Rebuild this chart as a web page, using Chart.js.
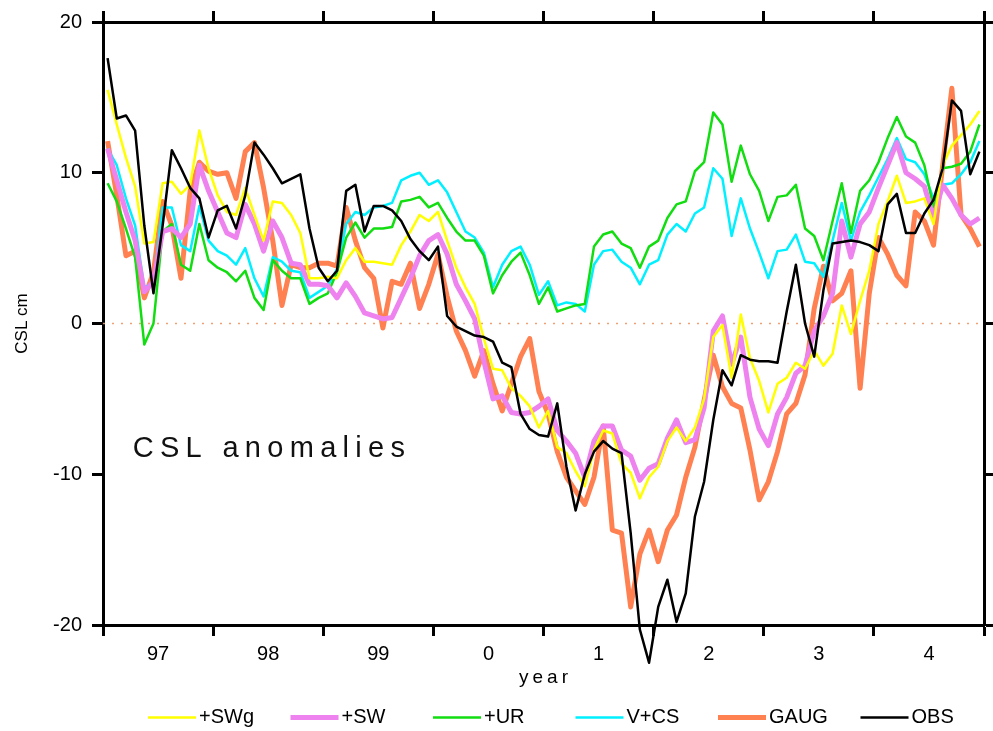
<!DOCTYPE html>
<html>
<head>
<meta charset="utf-8">
<title>CSL anomalies</title>
<script src="https://cdn.jsdelivr.net/npm/chart.js@4.4.1/dist/chart.umd.min.js"></script>
<style>
  html, body { margin: 0; padding: 0; background: #fff; }
  #wrap { width: 993px; height: 731px; }
</style>
</head>
<body>
<div id="wrap"><canvas id="myChart" width="993" height="731"></canvas></div>
<script>
"use strict";

const startYear = 1997;
const endYear = 2005;
const yearLabels = ["97", "98", "99", "0", "1", "2", "3", "4"];

// one value per month, Jan 1997 - Dec 2004 (plotted at mid-month)
const months = [];
for (let i = 0; i < 96; i++) {
  months.push(startYear + (i + 0.5) / 12);
}

const swg = [
  15.5, 13.2, 11.0, 9.1, 5.3, 5.4, 9.3, 9.4, 8.6, 9.2, 12.8, 10.3,
  8.5, 7.4, 7.2, 9.0, 7.2, 5.5, 8.1, 8.0, 7.2, 6.0, 3.0, 3.0,
  3.1, 3.0, 4.2, 5.0, 4.1, 4.1, 4.0, 3.9, 5.2, 6.1, 7.2, 6.8,
  7.4, 5.5, 3.7, 2.4, 1.3, -1.0, -3.0, -3.1, -4.3, -4.8, -5.5, -6.9,
  -5.8, -8.2, -8.6, -9.8, -10.8, -8.4, -7.1, -7.3, -9.3, -9.9, -11.6, -10.2,
  -9.5, -7.8, -6.9, -7.8, -6.9, -5.0, -0.9, -0.1, -3.6, 0.6, -2.3, -3.8,
  -5.9, -4.0, -3.6, -2.6, -3.0, -1.8, -2.8, -2.0, 1.2, -0.7, 1.5, 3.5,
  6.6, 8.1, 9.8, 8.0, 8.1, 8.3, 6.6, 10.5, 11.8, 12.5, 13.2, 14.1,
];

const sw = [
  11.6, 9.5, 7.4, 5.5, 2.1, 2.8, 6.1, 6.3, 5.7, 6.6, 10.5, 8.8,
  7.4, 6.0, 5.7, 7.9, 6.6, 4.8, 6.8, 5.7, 4.0, 3.9, 2.6, 2.6,
  2.5, 1.7, 2.7, 1.8, 0.7, 0.5, 0.3, 0.4, 1.7, 3.0, 4.5, 5.5,
  5.9, 4.6, 2.6, 1.5, 0.3, -2.5, -5.0, -4.8, -5.9, -6.0, -5.9, -5.5,
  -5.0, -7.1, -7.8, -8.6, -10.2, -7.8, -6.8, -6.8, -8.4, -8.8, -10.4, -9.6,
  -9.3, -7.6, -6.4, -7.9, -7.7, -5.6, -0.5, 0.5, -2.7, -0.9, -4.9, -7.0,
  -8.1, -6.0, -4.9, -3.3, -2.8, -0.5, 0.5, 2.0, 6.8, 4.4, 6.6, 7.4,
  9.0, 10.5, 12.0, 10.0, 9.6, 9.1, 7.0, 9.2, 8.3, 7.2, 6.6, 7.0,
];

const ur = [
  9.3, 8.1, 6.3, 4.4, -1.4, 0.0, 6.1, 6.6, 3.9, 3.5, 6.6, 4.2,
  3.7, 3.4, 2.8, 3.5, 1.7, 0.9, 4.2, 3.5, 3.0, 3.0, 1.3, 1.7,
  2.0, 3.4, 5.7, 6.7, 5.7, 6.3, 6.3, 6.4, 8.1, 8.2, 8.4, 7.7,
  8.0, 7.0, 6.1, 5.5, 5.5, 4.5, 2.0, 3.2, 4.1, 4.7, 3.2, 1.3,
  2.4, 0.8, 1.0, 1.2, 1.3, 5.1, 5.9, 6.1, 5.3, 5.0, 3.7, 5.1,
  5.5, 7.0, 7.9, 8.1, 10.1, 10.7, 14.0, 13.2, 9.4, 11.8, 9.9, 8.8,
  6.8, 8.4, 8.5, 9.2, 6.3, 5.8, 4.2, 6.8, 9.3, 6.0, 8.8, 9.5,
  10.7, 12.3, 13.7, 12.4, 12.0, 10.5, 7.7, 10.3, 10.4, 10.6, 11.4, 13.2,
];

const vcs = [
  11.6, 10.5, 8.3, 6.5, 2.4, 2.7, 7.7, 7.7, 5.2, 4.8, 7.8, 5.5,
  4.8, 4.5, 3.9, 5.0, 3.0, 1.8, 4.4, 4.1, 3.5, 3.4, 1.7, 2.1,
  2.5, 3.6, 6.6, 7.4, 7.2, 7.7, 7.8, 8.0, 9.5, 9.8, 10.0, 9.2,
  9.5, 8.7, 7.4, 6.1, 5.7, 4.7, 2.4, 3.9, 4.8, 5.1, 3.9, 1.9,
  2.8, 1.2, 1.4, 1.3, 0.8, 3.9, 4.8, 4.9, 4.1, 3.7, 2.6, 3.9,
  4.2, 5.9, 6.6, 6.1, 7.3, 7.7, 10.3, 9.6, 5.8, 8.3, 6.3, 4.7,
  3.0, 4.8, 4.9, 5.9, 4.1, 4.0, 3.1, 5.5, 8.0, 5.5, 7.4, 8.5,
  9.7, 10.9, 12.3, 10.9, 10.7, 9.9, 8.3, 9.2, 9.3, 9.9, 10.7, 12.1,
];

const gaug = [
  12.1, 8.5, 4.5, 4.8, 1.7, 3.4, 8.1, 6.5, 3.0, 8.8, 10.7, 10.1,
  9.9, 10.0, 8.3, 11.4, 12.0, 9.0, 5.5, 1.2, 3.9, 3.7, 3.7, 4.0,
  4.0, 3.8, 7.7, 5.5, 3.7, 3.0, -0.3, 2.8, 2.6, 4.0, 1.0, 2.6,
  4.6, 1.8, -0.5, -1.8, -3.5, -1.8, -4.0, -5.8, -4.0, -2.2, -1.0, -4.5,
  -6.0, -8.5, -10.2, -11.1, -12.0, -10.2, -6.8, -13.7, -13.9, -18.8, -15.3, -13.7,
  -15.8, -13.7, -12.7, -10.2, -8.2, -5.1, -2.1, -4.2, -5.3, -5.6, -8.4, -11.7,
  -10.5, -8.5, -6.0, -5.3, -3.4, 1.0, 3.8, 1.5, 2.0, 3.5, -4.3, 2.0,
  5.7, 4.6, 3.2, 2.5, 7.4, 6.8, 5.2, 10.5, 15.6, 7.2, 6.3, 5.1,
];

const obs = [
  17.6, 13.6, 13.8, 12.8, 6.5, 2.0, 6.5, 11.5, 10.3, 9.0, 8.3, 5.7,
  7.5, 7.8, 6.3, 8.5, 12.0, 11.2, 10.3, 9.3, 9.6, 9.9, 6.3, 3.7,
  2.8, 3.5, 8.8, 9.2, 6.1, 7.8, 7.8, 7.5, 6.8, 5.6, 4.8, 4.2,
  5.1, 0.5, -0.2, -0.5, -0.8, -0.9, -1.2, -2.6, -2.9, -6.0, -7.0, -7.4,
  -7.5, -5.3, -9.5, -12.4, -10.0, -8.5, -7.8, -8.3, -8.6, -13.9, -20.3, -22.5,
  -18.8, -17.0, -19.8, -17.9, -12.8, -10.5, -6.4, -3.1, -4.1, -2.1, -2.4, -2.5,
  -2.5, -2.6, 0.8, 3.9, 0.0, -2.2, 2.2, 5.3, 5.4, 5.5, 5.4, 5.2,
  4.8, 7.9, 8.6, 6.0, 6.0, 7.3, 8.2, 10.3, 14.8, 14.1, 9.9, 11.4,
];

function toPoints(values) {
  let points = [];
  for (let i = 0; i < values.length; i++) {
    points.push({ x: months[i], y: values[i] });
  }
  return points;
}

function makeLine(label, values, color, width, order) {
  return {
    label: label,
    data: toPoints(values),
    borderColor: color,
    backgroundColor: color,
    borderWidth: width,
    pointRadius: 0,
    tension: 0,
    fill: false,
    order: order,
    borderJoinStyle: "round",
  };
}

const obsLine = makeLine("OBS", obs, "#000000", 2.5, 1);
obsLine.clip = false;

const zeroLine = {
  label: "zero",
  data: [{ x: startYear, y: 0 }, { x: endYear, y: 0 }],
  borderColor: "rgba(240, 150, 100, 0.9)",
  borderWidth: 1.5,
  borderDash: [2, 7],
  pointRadius: 0,
  order: 9,
  hideInLegend: true,
};

// legend drawn in slots under the x axis
const bottomLegend = {
  id: "bottomLegend",
  afterDraw(chart) {
    const ctx = chart.ctx;
    const sets = chart.data.datasets.filter((d) => !d.hideInLegend);
    const y = 717;
    ctx.save();
    ctx.font = "20px 'Liberation Sans', Arial, sans-serif";
    ctx.textBaseline = "middle";
    ctx.fillStyle = "#000";
    for (let k = 0; k < sets.length; k++) {
      const x0 = chart.chartArea.left + 45 + k * 142.5;
      ctx.strokeStyle = sets[k].borderColor;
      ctx.lineWidth = sets[k].borderWidth;
      ctx.beginPath();
      ctx.moveTo(x0, y + 0.5);
      ctx.lineTo(x0 + 48, y + 0.5);
      ctx.stroke();
      ctx.fillText(sets[k].label, x0 + 51, y);
    }
    ctx.restore();
  },
};

// spaced-out texts: the panel label and the x axis title
const spacedTexts = {
  id: "spacedTexts",
  afterDatasetsDraw(chart) {
    const ctx = chart.ctx;
    const area = chart.chartArea;
    const x = chart.scales.x.getPixelForValue(1997.27);
    const y = chart.scales.y.getPixelForValue(-8.3);
    ctx.save();
    ctx.font = "29px 'Liberation Sans', Arial, sans-serif";
    ctx.letterSpacing = "6.3px";
    ctx.fillStyle = "#111";
    ctx.textBaseline = "middle";
    ctx.fillText("CSL anomalies", x, y);

    ctx.font = "19px 'Liberation Sans', Arial, sans-serif";
    ctx.letterSpacing = "4px";
    ctx.fillStyle = "#000";
    ctx.textAlign = "center";
    ctx.textBaseline = "alphabetic";
    ctx.fillText("year", (area.left + area.right) / 2 + 2, 683);
    ctx.restore();
  },
};

Chart.defaults.font.family = "'Liberation Sans', Arial, sans-serif";
Chart.defaults.color = "#000";

const frameGrid = {
  drawOnChartArea: false,
  drawTicks: true,
  tickLength: 11,
  tickWidth: 3,
  tickColor: "#000",
};
const frameBorder = { color: "#000", width: 3 };

const config = {
  type: "line",
  data: {
    datasets: [
      makeLine("+SWg", swg, "#ffff00", 2.5, 2),
      makeLine("+SW", sw, "#ee82ee", 5, 3),
      makeLine("+UR", ur, "#11dd11", 2.5, 4),
      makeLine("V+CS", vcs, "#00f0ff", 2.5, 5),
      makeLine("GAUG", gaug, "#ff8050", 5, 6),
      obsLine,
      zeroLine,
    ],
  },
  options: {
    responsive: false,
    animation: false,
    layout: { padding: { left: 0, right: 0, top: 0, bottom: 41 } },
    plugins: {
      legend: { display: false },
      tooltip: { enabled: false },
    },
    scales: {
      x: {
        type: "linear",
        position: "bottom",
        min: startYear,
        max: endYear,
        afterBuildTicks: (scale) => {
          let ticks = [];
          for (let yr = startYear; yr <= endYear; yr++) {
            ticks.push({ value: yr });
            if (yr < endYear) ticks.push({ value: yr + 0.5 });
          }
          scale.ticks = ticks;
        },
        afterFit: (scale) => {
          scale.height = 65;
        },
        ticks: {
          autoSkip: false,
          maxRotation: 0,
          padding: 6,
          font: { size: 20 },
          callback: (value) =>
            Number.isInteger(value) ? "" : yearLabels[Math.floor(value) - startYear],
        },
        grid: {
          ...frameGrid,
          tickColor: (ctx) =>
            Number.isInteger(ctx.tick.value) ? "#000" : "rgba(0,0,0,0)",
        },
        border: frameBorder,
      },
      xTop: {
        type: "linear",
        position: "top",
        min: startYear,
        max: endYear,
        ticks: { stepSize: 1, display: false },
        afterFit: (scale) => {
          scale.height = 20;
        },
        grid: frameGrid,
        border: frameBorder,
      },
      y: {
        type: "linear",
        position: "left",
        min: -20,
        max: 20,
        ticks: { stepSize: 10, padding: 10, font: { size: 20 } },
        afterFit: (scale) => {
          scale.width = 103;
        },
        grid: frameGrid,
        border: frameBorder,
        title: {
          display: true,
          text: "CSL cm",
          font: { size: 17 },
          padding: { top: 12, bottom: 0 },
        },
      },
      yRight: {
        type: "linear",
        position: "right",
        min: -20,
        max: 20,
        ticks: { stepSize: 10, display: false },
        afterFit: (scale) => {
          scale.width = 9;
        },
        grid: frameGrid,
        border: frameBorder,
      },
    },
  },
  plugins: [bottomLegend, spacedTexts],
};

const canvasChart = document.getElementById("myChart");
new Chart(canvasChart, config);
</script>
</body>
</html>
